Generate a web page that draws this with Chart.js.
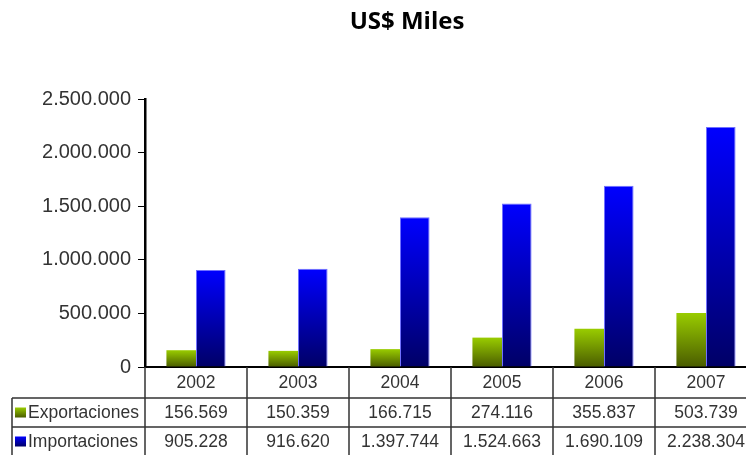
<!DOCTYPE html>
<html>
<head>
<meta charset="utf-8">
<script src="https://cdn.jsdelivr.net/npm/chart.js@4.4.1/dist/chart.umd.min.js"></script>
<style>
  html, body { margin: 0; padding: 0; background: #fff; overflow: hidden; }
  #wrap { width: 746px; height: 455px; overflow: hidden; position: relative; }
  canvas { display: block; }
</style>
</head>
<body>
<div id="wrap"><canvas id="c" width="760" height="455"></canvas></div>
<script>
const categories = ['2002', '2003', '2004', '2005', '2006', '2007'];
const exportaciones = [156569, 150359, 166715, 274116, 355837, 503739];
const importaciones = [905228, 916620, 1397744, 1524663, 1690109, 2238304];
const seriesNames = ['Exportaciones', 'Importaciones'];
const yTicks = [0, 500000, 1000000, 1500000, 2000000, 2500000];
const titleText = 'US$ Miles';

function fmt(v) {
  return String(v).replace(/\B(?=(\d{3})+(?!\d))/g, '.');
}

const colors = {
  exp: ['#99cc00', '#4a5c00'],
  imp: ['#0000ff', '#000066']
};

function barGrad(ctx, pair) {
  const c = ctx.chart;
  if (!c.chartArea || ctx.type !== 'data' || ctx.raw == null) return pair[0];
  const ys = c.scales.y;
  const y0 = ys.getPixelForValue(ctx.raw);
  const y1 = ys.getPixelForValue(0);
  if (!isFinite(y0) || !isFinite(y1) || y0 === y1) return pair[0];
  const g = c.ctx.createLinearGradient(0, y0, 0, y1);
  g.addColorStop(0, pair[0]);
  g.addColorStop(1, pair[1]);
  return g;
}

const titlePlugin = {
  id: 'centerTitle',
  afterDraw(chart) {
    const ctx = chart.ctx;
    ctx.save();
    ctx.fillStyle = '#000';
    ctx.font = 'bold 24px "Open Sans", sans-serif';
    ctx.textAlign = 'center';
    ctx.textBaseline = 'middle';
    ctx.fillText(titleText, 407, 22);
    ctx.restore();
  }
};

const tablePlugin = {
  id: 'dataTable',
  afterDraw(chart) {
    const ctx = chart.ctx;
    const xs = chart.scales.x;
    const area = chart.chartArea;
    const half = (xs.getPixelForValue(1) - xs.getPixelForValue(0)) / 2;
    const edges = [];
    for (let i = 0; i <= categories.length; i++) {
      edges.push(xs.getPixelForValue(0) - half + i * 2 * half);
    }
    const top = area.bottom;
    const r1 = top + 31;
    const r2 = r1 + 29;
    const r3 = r2 + 29;
    const legLeft = 12;
    ctx.save();
    ctx.strokeStyle = '#333';
    ctx.lineWidth = 1.5;
    ctx.beginPath();
    ctx.moveTo(legLeft, r1); ctx.lineTo(edges[edges.length - 1], r1);
    ctx.moveTo(legLeft, r2); ctx.lineTo(edges[edges.length - 1], r2);
    ctx.moveTo(legLeft, r3); ctx.lineTo(edges[edges.length - 1], r3);
    ctx.moveTo(legLeft, r1); ctx.lineTo(legLeft, r3);
    edges.forEach((x) => {
      ctx.moveTo(x, top); ctx.lineTo(x, r3);
    });
    ctx.stroke();

    ctx.fillStyle = '#333';
    ctx.font = '17.5px "Liberation Sans", Arial, sans-serif';
    ctx.textAlign = 'center';
    ctx.textBaseline = 'middle';
    categories.forEach((cat, i) => {
      const cx = xs.getPixelForValue(i);
      ctx.fillText(cat, cx, (top + r1) / 2 + 1);
      ctx.fillText(fmt(exportaciones[i]), cx, (r1 + r2) / 2 + 1);
      ctx.fillText(fmt(importaciones[i]), cx, (r2 + r3) / 2 + 1);
    });

    const keys = [[colors.exp, (r1 + r2) / 2, seriesNames[0]], [colors.imp, (r2 + r3) / 2, seriesNames[1]]];
    keys.forEach(([pair, cy, name]) => {
      const g = ctx.createLinearGradient(0, cy - 5, 0, cy + 5);
      g.addColorStop(0, pair[0]);
      g.addColorStop(1, pair[1]);
      ctx.fillStyle = g;
      ctx.fillRect(15, cy - 5, 11, 10);
      ctx.fillStyle = '#333';
      ctx.textAlign = 'left';
      ctx.fillText(name, 28, cy + 1);
    });
    ctx.restore();
  }
};

new Chart(document.getElementById('c'), {
  type: 'bar',
  data: {
    labels: categories,
    datasets: [
      {
        label: seriesNames[0],
        data: exportaciones,
        backgroundColor: ctx => barGrad(ctx, colors.exp),
        borderWidth: 0
      },
      {
        label: seriesNames[1],
        data: importaciones,
        backgroundColor: ctx => barGrad(ctx, colors.imp),
        borderColor: '#7070ff',
        borderWidth: 1
      }
    ]
  },
  options: {
    responsive: false,
    animation: false,
    devicePixelRatio: 1,
    layout: { padding: { left: 34, right: 3, top: 99, bottom: 0 } },
    datasets: { bar: { categoryPercentage: 0.58, barPercentage: 1.0 } },
    plugins: {
      legend: { display: false },
      tooltip: { enabled: false },
      title: { display: false }
    },
    scales: {
      x: {
        grid: { display: false },
        border: { display: true, color: '#000', width: 2 },
        ticks: { display: false },
        afterFit(s) { s.height = 88; }
      },
      y: {
        min: 0,
        max: 2500000,
        afterBuildTicks(s) { s.ticks = yTicks.map(v => ({ value: v })); },
        grid: { drawOnChartArea: false, color: '#000', lineWidth: 1, tickLength: 7 },
        border: { display: true, color: '#000', width: 2.5 },
        ticks: {
          color: '#333',
          padding: 7,
          font: { family: '"Liberation Sans", Arial, sans-serif', size: 20 },
          callback: v => fmt(v)
        },
        afterFit(s) { s.width = 111; }
      }
    }
  },
  plugins: [tablePlugin, titlePlugin]
});
</script>
</body>
</html>
